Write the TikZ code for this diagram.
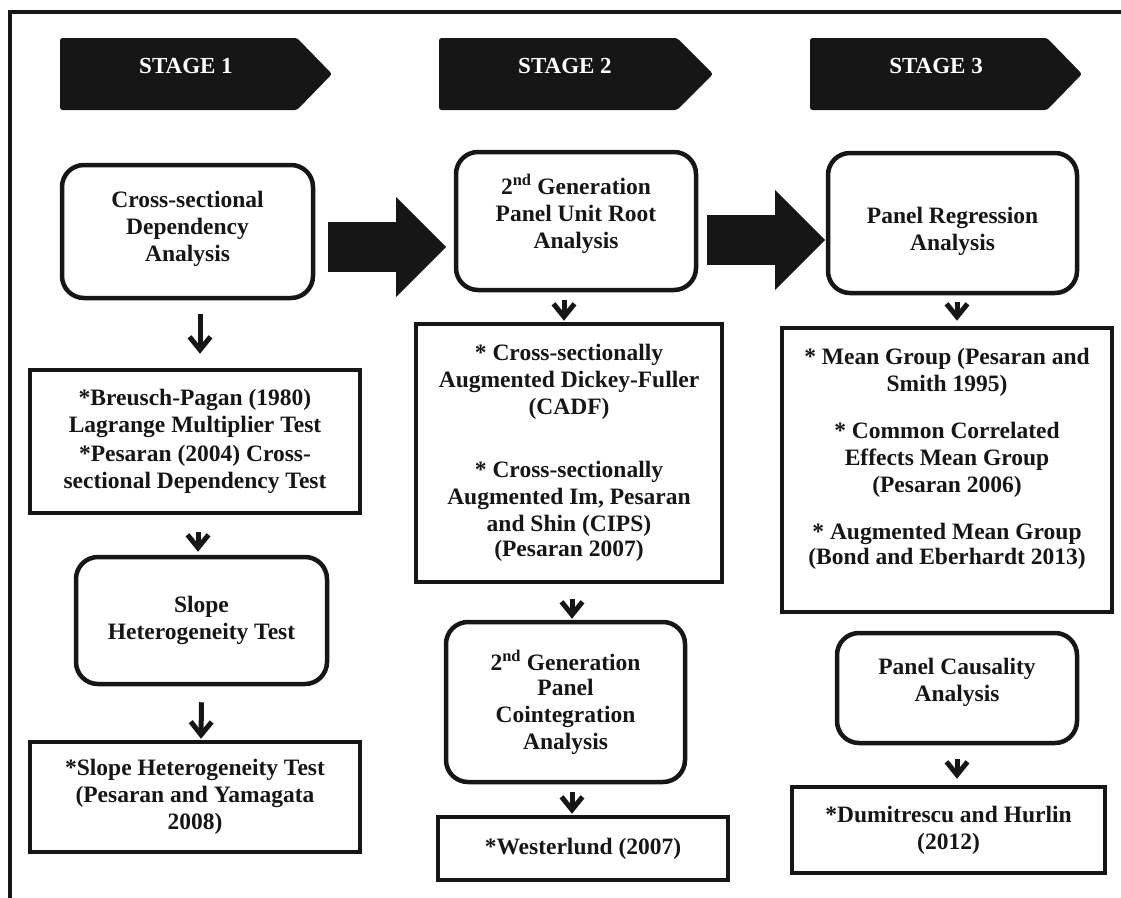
\documentclass[tikz,border=0pt]{standalone}
\usepackage{fontspec}
\setmainfont{Liberation Serif}
\usetikzlibrary{arrows.meta}
\definecolor{flowInk}{HTML}{161616}

\begin{document}
\begin{tikzpicture}[
                x=1pt, y=-1pt,
                flowFrame/.style={draw=flowInk,line width=4pt},
                flowStage/.style={fill=flowInk,rounded corners=2.5pt},
                flowStageText/.style={text=white,inner sep=0pt,
                                      font=\bfseries\fontsize{23}{26}\selectfont},
                flowBase/.style={draw=flowInk,line width=4.5pt,align=center,
                                 text=flowInk,inner sep=4pt,
                                 font=\bfseries\fontsize{23.5}{27}\selectfont},
                flowRound/.style={flowBase,rounded corners=22pt},
                flowRect/.style={flowBase},
                flowArrow/.style={draw=flowInk,line width=5pt,
                                  -{Straight Barb[length=13pt,width=21pt]}},
                flowBigArrow/.style={draw=flowInk,line width=50pt,
                                     -{Triangle[length=50pt,width=100pt,line width=0pt]}}]
                \useasboundingbox (0,0) rectangle (1121,897);
                \draw[flowFrame] (10,905) -- (10,11.5) -- (1130,11.5);

                % stage banners
                \fill[flowStage] (60,38) -- (297,38) -- (332,74) -- (297,110) -- (60,110) -- cycle;
                \fill[flowStage] (439,38) -- (677,38) -- (713,74) -- (677,110) -- (439,110) -- cycle;
                \fill[flowStage] (810,38) -- (1047,38) -- (1082,74) -- (1047,110) -- (810,110) -- cycle;
                \node[flowStageText] (st1) at (186,66) {STAGE 1};
                \node[flowStageText] (st2) at (565,66) {STAGE 2};
                \node[flowStageText] (st3) at (936,66) {STAGE 3};

                % stage 1
                \node[flowRound,minimum width=251,minimum height=133] (A1) at (187.5,231.5)
                    {Cross-sectional\\Dependency\\Analysis\\[-16pt]\mbox{}};
                \node[flowRect,minimum width=330,minimum height=143] (B1) at (195,441.5)
                    {*Breusch-Pagan (1980)\\Lagrange Multiplier Test\\[2pt]
                     *Pesaran (2004) Cross-\\sectional Dependency Test};
                \node[flowRound,minimum width=251,minimum height=127] (C1) at (201.5,620.5)
                    {Slope\\Heterogeneity Test};
                \node[flowRect,minimum width=330,minimum height=110] (D1) at (195,797)
                    {*Slope Heterogeneity Test\\(Pesaran and Yamagata\\2008)};

                % stage 2
                \node[flowRound,minimum width=240,minimum height=138] (A2) at (576,221)
                    {2\textsuperscript{nd} Generation\\Panel Unit Root\\Analysis\\[-8pt]\mbox{}};
                \node[flowRect,minimum width=306,minimum height=258] (B2) at (569,453)
                    {* Cross-sectionally\\Augmented Dickey-Fuller\\(CADF)\\[36pt]
                     * Cross-sectionally\\Augmented Im, Pesaran\\and Shin (CIPS)\\[-2pt](Pesaran 2007)};
                \node[flowRound,minimum width=239,minimum height=160] (C2) at (565.5,702)
                    {2\textsuperscript{nd} Generation\\[-2pt]Panel\\Cointegration\\Analysis};
                \node[flowRect,minimum width=290,minimum height=63] (D2) at (583,848.5)
                    {*Westerlund (2007)};

                % stage 3
                \node[flowRound,minimum width=249,minimum height=140] (A3) at (952.5,223)
                    {\mbox{}\\[5.5pt]Panel Regression\\Analysis};
                \node[flowRect,minimum width=330,minimum height=284] (B3) at (947,470)
                    {* Mean Group (Pesaran and\\Smith 1995)\\[20pt]
                     * Common Correlated\\Effects Mean Group\\(Pesaran 2006)\\[20pt]
                     * Augmented Mean Group\\[-2pt](Bond and Eberhardt 2013)\\\mbox{}};
                \node[flowRound,minimum width=240,minimum height=110] (C3) at (957,688)
                    {Panel Causality\\Analysis\\[-10pt]\mbox{}};
                \node[flowRect,minimum width=313,minimum height=86] (D3) at (948.5,830)
                    {*Dumitrescu and Hurlin\\(2012)};

                % down arrows
                \draw[flowArrow] ([xshift=12.5pt,yshift=-14pt]A1.south) -- ([xshift=5pt,yshift=14pt]B1.north);
                \draw[flowArrow] ([xshift=3pt,yshift=-17pt]B1.south) -- ([xshift=-3.5pt,yshift=3pt]C1.north);
                \draw[flowArrow] ([yshift=-16pt]C1.south) -- ([xshift=6pt,yshift=1pt]D1.north);
                \draw[flowArrow] ([xshift=-12pt,yshift=-8pt]A2.south) -- ([xshift=-5pt,yshift=1pt]B2.north);
                \draw[flowArrow] ([xshift=3pt,yshift=-15pt]B2.south) -- ([xshift=6.5pt,yshift=1pt]C2.north);
                \draw[flowArrow] ([xshift=6.5pt,yshift=-8pt]C2.south) -- ([xshift=-11pt,yshift=1pt]D2.north);
                \draw[flowArrow] ([xshift=4.5pt,yshift=-7pt]A3.south) -- ([xshift=10pt,yshift=5pt]B3.north);
                \draw[flowArrow] ([yshift=-14pt]C3.south) -- ([xshift=8.5pt,yshift=6pt]D3.north);

                % stage to stage
                \coordinate (g1s) at (328,247);
                \coordinate (g1e) at (446,247);
                \coordinate (g2s) at (707,240);
                \coordinate (g2e) at (825,240);
                \draw[flowBigArrow] (g1s) -- (g1e);
                \draw[flowBigArrow] (g2s) -- (g2e);
            \end{tikzpicture}
\end{document}
